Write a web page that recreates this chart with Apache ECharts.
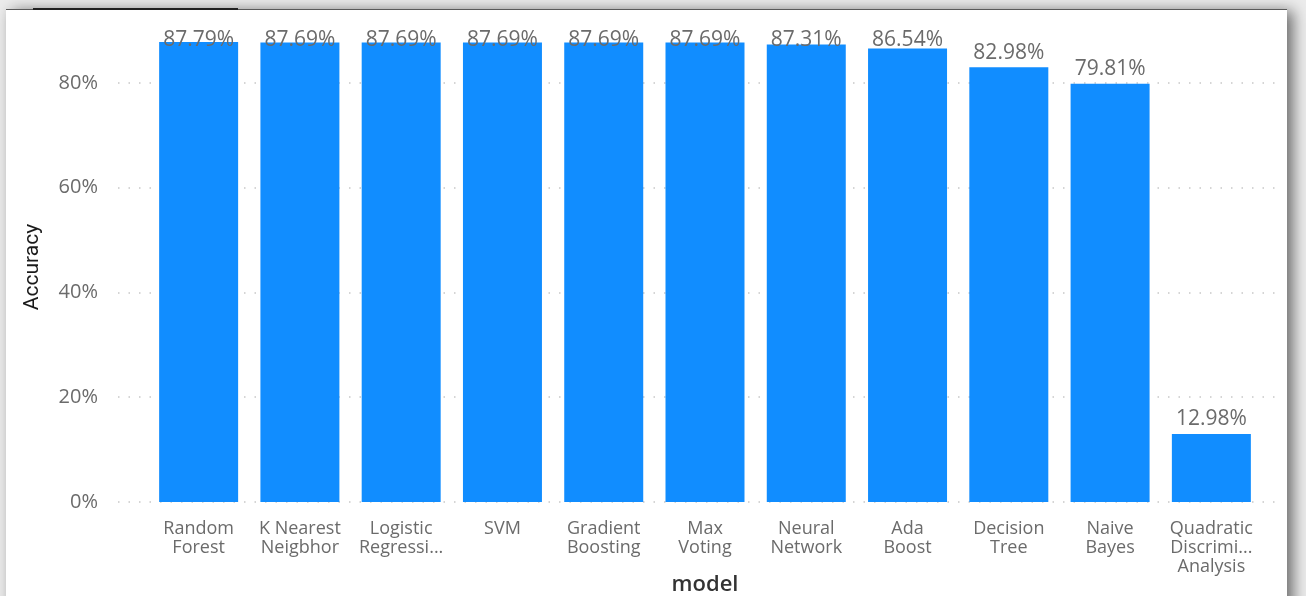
<!DOCTYPE html>
<html>
<head>
<meta charset="utf-8">
<script src="https://cdn.jsdelivr.net/npm/echarts@6/dist/echarts.min.js"></script>
<style>
  html, body { margin: 0; padding: 0; }
  body { width: 1306px; height: 596px; background: #ececec; position: relative; overflow: hidden; }
  #panel { position: absolute; left: 6px; top: 9px; width: 1281px; height: 600px; background: #ffffff;
           border-top: 1.5px solid #5a5a5a; box-shadow: 6px 2px 14px rgba(0,0,0,0.55); }
  #accent { position: absolute; left: 33px; top: 8px; width: 205px; height: 2px; background: #222; }
  #chart { position: absolute; left: 0; top: 0; width: 1306px; height: 596px; }
</style>
</head>
<body>
<div id="panel"></div>
<div id="accent"></div>
<div id="chart"></div>
<script>
// ---- data ----
var categories = ["Random\nForest", "K Nearest\nNeigbhor", "Logistic\nRegressi...", "SVM", "Gradient\nBoosting",
                  "Max\nVoting", "Neural\nNetwork", "Ada\nBoost", "Decision\nTree", "Naive\nBayes",
                  "Quadratic\nDiscrimi...\nAnalysis"];
var accuracy = [87.79, 87.69, 87.69, 87.69, 87.69, 87.69, 87.31, 86.54, 82.98, 79.81, 12.98];
var yTicks = [0, 20, 40, 60, 80, 100];
var xTitle = "model";
var yTitle = "Accuracy";

var FONT = "'Open Sans', 'Noto Sans', sans-serif";
var chart = echarts.init(document.getElementById('chart'), null, { renderer: 'canvas' });

var option = {
  backgroundColor: 'transparent',
  animation: false,
  grid: [
    { left: 118, right: 23, bottom: 94, top: -22, containLabel: false, outerBoundsMode: 'none' },
    { left: 148, right: 44, bottom: 94, top: -22, containLabel: false, outerBoundsMode: 'none' }
  ],
  xAxis: [
    { gridIndex: 0, type: 'value', show: false, min: 0, max: 1 },
    {
      gridIndex: 1, type: 'category', data: categories,
      axisLine: { show: false }, axisTick: { show: false },
      axisLabel: { color: '#6b6b6b', fontFamily: FONT, fontSize: 18, lineHeight: 19, margin: 17, interval: 0 },
      name: xTitle, nameLocation: 'middle', nameGap: 72, nameMoveOverlap: false,
      nameTextStyle: { color: '#333333', fontFamily: FONT, fontSize: 22, fontWeight: 600 }
    }
  ],
  yAxis: [
    {
      gridIndex: 0, type: 'value', min: yTicks[0], max: yTicks[yTicks.length - 1], interval: 20,
      axisLine: { show: false }, axisTick: { show: false },
      axisLabel: { color: '#6b6b6b', fontFamily: FONT, fontSize: 20, margin: 20, showMaxLabel: false,
                   formatter: function (v) { return v + '%'; } },
      splitLine: { show: true, lineStyle: { color: '#c8c8c8', type: [1.5, 9], width: 1.5 } }
    },
    { gridIndex: 1, type: 'value', min: yTicks[0], max: yTicks[yTicks.length - 1], show: false }
  ],
  graphic: [{
    type: 'text', x: 33, y: 267, rotation: Math.PI / 2,
    style: { text: yTitle, fill: '#1a1a1a', align: 'center', verticalAlign: 'middle',
             font: "21px 'Liberation Sans Narrow', 'Roboto', sans-serif" }
  }],
  series: [{
    type: 'bar',
    xAxisIndex: 1, yAxisIndex: 1,
    data: accuracy,
    barCategoryGap: '22%',
    itemStyle: { color: '#118DFF' },
    label: {
      show: true, position: 'top', distance: 4,
      color: '#6b6b6b', fontFamily: FONT, fontSize: 21,
      formatter: function (p) { return p.value.toFixed(2) + '%'; }
    },
    labelLayout: function (params) {
      var r = params.labelRect;
      return { dy: Math.max(0, 29.5 - r.y) };
    }
  }]
};
chart.setOption(option);
</script>
</body>
</html>
